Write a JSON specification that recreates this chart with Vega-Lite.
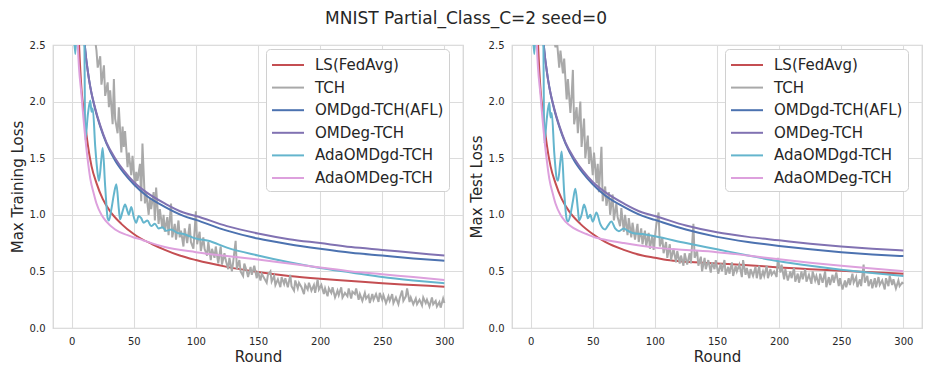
{
"$schema": "https://vega.github.io/schema/vega-lite/v6.json",
"background": "white",
"padding": {"left": 9, "top": 10, "right": 6, "bottom": 4},
"title": {"text": "MNIST Partial_Class_C=2 seed=0", "fontSize": 17, "font": "DejaVu Sans", "fontWeight": "normal", "anchor": "middle", "offset": 11, "color": "#262626"},
"config": {
  "font": "DejaVu Sans",
  "view": {"stroke": "#d4d4d4", "strokeWidth": 1.25},
  "axis": {"grid": true, "gridColor": "#dcdcdc", "gridWidth": 1.1, "domain": false, "ticks": false, "labelFontSize": 10, "labelColor": "#262626", "labelPadding": 8, "titleFontSize": 15, "titleFontWeight": "normal", "titleColor": "#262626", "labelFont": "DejaVu Sans", "titleFont": "DejaVu Sans"},
  "legend": {"orient": "none", "legendX": 213, "legendY": 4, "fillColor": "white", "strokeColor": "#d0d0d0", "cornerRadius": 4, "padding": 5, "labelFontSize": 15, "labelFont": "DejaVu Sans", "labelColor": "#262626", "symbolType": "M-1.6,0H1.6", "symbolSize": 400, "symbolStrokeWidth": 2, "symbolOffset": 6, "rowPadding": 3.6, "labelOffset": 16},
  "concat": {"spacing": 4}
},
"resolve": {"scale": {"color": "independent"}, "legend": {"color": "independent"}},
"datasets": {
"train": [
{"s":"LS(FedAvg)","r":2,"v":4.5},{"s":"LS(FedAvg)","r":4,"v":3.1},{"s":"LS(FedAvg)","r":6,"v":2.5},{"s":"LS(FedAvg)","r":8,"v":2.1},{"s":"LS(FedAvg)","r":10,"v":1.9},{"s":"LS(FedAvg)","r":13,"v":1.62},{"s":"LS(FedAvg)","r":16,"v":1.43},{"s":"LS(FedAvg)","r":20,"v":1.28},{"s":"LS(FedAvg)","r":25,"v":1.14},{"s":"LS(FedAvg)","r":31,"v":1.03},{"s":"LS(FedAvg)","r":40,"v":0.92},{"s":"LS(FedAvg)","r":50,"v":0.83},{"s":"LS(FedAvg)","r":55,"v":0.795},{"s":"LS(FedAvg)","r":65,"v":0.74},{"s":"LS(FedAvg)","r":75,"v":0.69},{"s":"LS(FedAvg)","r":87,"v":0.64},{"s":"LS(FedAvg)","r":100,"v":0.6},{"s":"LS(FedAvg)","r":125,"v":0.54},{"s":"LS(FedAvg)","r":150,"v":0.495},{"s":"LS(FedAvg)","r":175,"v":0.46},{"s":"LS(FedAvg)","r":200,"v":0.435},{"s":"LS(FedAvg)","r":225,"v":0.415},{"s":"LS(FedAvg)","r":250,"v":0.395},{"s":"LS(FedAvg)","r":275,"v":0.38},{"s":"LS(FedAvg)","r":300,"v":0.365},
{"s":"TCH","r":2,"v":4.2},{"s":"TCH","r":6,"v":3.5},{"s":"TCH","r":10,"v":3.1},{"s":"TCH","r":14,"v":2.85},{"s":"TCH","r":16,"v":2.7},{"s":"TCH","r":18,"v":2.62},{"s":"TCH","r":20,"v":2.45},{"s":"TCH","r":21,"v":2.3},{"s":"TCH","r":23,"v":2.4},{"s":"TCH","r":24,"v":2.15},{"s":"TCH","r":26,"v":2.32},{"s":"TCH","r":27,"v":2.05},{"s":"TCH","r":29,"v":2.17},{"s":"TCH","r":30,"v":1.95},{"s":"TCH","r":31,"v":2.1},{"s":"TCH","r":33,"v":1.8},{"s":"TCH","r":34,"v":2.2},{"s":"TCH","r":35,"v":1.85},{"s":"TCH","r":37,"v":1.72},{"s":"TCH","r":38,"v":1.95},{"s":"TCH","r":40,"v":1.55},{"s":"TCH","r":41,"v":1.78},{"s":"TCH","r":42,"v":1.6},{"s":"TCH","r":43,"v":1.74},{"s":"TCH","r":45,"v":1.42},{"s":"TCH","r":46,"v":1.55},{"s":"TCH","r":48,"v":1.35},{"s":"TCH","r":49,"v":1.52},{"s":"TCH","r":51,"v":1.25},{"s":"TCH","r":52,"v":1.38},{"s":"TCH","r":53,"v":1.3},{"s":"TCH","r":55,"v":1.45},{"s":"TCH","r":56,"v":1.12},{"s":"TCH","r":57,"v":1.63},{"s":"TCH","r":59,"v":1.1},{"s":"TCH","r":60,"v":1.2},{"s":"TCH","r":62,"v":1.0},{"s":"TCH","r":63,"v":1.15},{"s":"TCH","r":64,"v":1.05},{"s":"TCH","r":66,"v":1.2},{"s":"TCH","r":67,"v":0.95},{"s":"TCH","r":68,"v":1.24},{"s":"TCH","r":70,"v":0.92},{"s":"TCH","r":71,"v":1.05},{"s":"TCH","r":73,"v":0.88},{"s":"TCH","r":74,"v":1.0},{"s":"TCH","r":75,"v":0.85},{"s":"TCH","r":77,"v":0.98},{"s":"TCH","r":78,"v":0.82},{"s":"TCH","r":80,"v":1.1},{"s":"TCH","r":81,"v":0.8},{"s":"TCH","r":83,"v":0.92},{"s":"TCH","r":84,"v":0.78},{"s":"TCH","r":86,"v":0.95},{"s":"TCH","r":87,"v":0.8},{"s":"TCH","r":88,"v":0.86},{"s":"TCH","r":90,"v":0.72},{"s":"TCH","r":91,"v":0.88},{"s":"TCH","r":93,"v":0.75},{"s":"TCH","r":95,"v":0.92},{"s":"TCH","r":96,"v":0.76},{"s":"TCH","r":98,"v":0.7},{"s":"TCH","r":100,"v":1.03},{"s":"TCH","r":101,"v":0.74},{"s":"TCH","r":103,"v":0.85},{"s":"TCH","r":104,"v":0.68},{"s":"TCH","r":106,"v":0.8},{"s":"TCH","r":107,"v":0.7},{"s":"TCH","r":109,"v":0.64},{"s":"TCH","r":110,"v":0.76},{"s":"TCH","r":112,"v":0.6},{"s":"TCH","r":113,"v":0.7},{"s":"TCH","r":115,"v":0.62},{"s":"TCH","r":116,"v":0.72},{"s":"TCH","r":118,"v":0.57},{"s":"TCH","r":120,"v":0.72},{"s":"TCH","r":121,"v":0.56},{"s":"TCH","r":123,"v":0.66},{"s":"TCH","r":124,"v":0.6},{"s":"TCH","r":126,"v":0.52},{"s":"TCH","r":127,"v":0.62},{"s":"TCH","r":129,"v":0.5},{"s":"TCH","r":130,"v":0.58},{"s":"TCH","r":132,"v":0.77},{"s":"TCH","r":133,"v":0.52},{"s":"TCH","r":135,"v":0.6},{"s":"TCH","r":136,"v":0.5},{"s":"TCH","r":138,"v":0.46},{"s":"TCH","r":139,"v":0.57},{"s":"TCH","r":141,"v":0.5},{"s":"TCH","r":142,"v":0.45},{"s":"TCH","r":144,"v":0.54},{"s":"TCH","r":145,"v":0.47},{"s":"TCH","r":147,"v":0.55},{"s":"TCH","r":149,"v":0.44},{"s":"TCH","r":150,"v":0.5},{"s":"TCH","r":152,"v":0.42},{"s":"TCH","r":153,"v":0.48},{"s":"TCH","r":155,"v":0.44},{"s":"TCH","r":157,"v":0.4},{"s":"TCH","r":158,"v":0.47},{"s":"TCH","r":160,"v":0.5},{"s":"TCH","r":161,"v":0.41},{"s":"TCH","r":163,"v":0.46},{"s":"TCH","r":164,"v":0.38},{"s":"TCH","r":166,"v":0.43},{"s":"TCH","r":168,"v":0.36},{"s":"TCH","r":169,"v":0.45},{"s":"TCH","r":171,"v":0.39},{"s":"TCH","r":172,"v":0.44},{"s":"TCH","r":174,"v":0.36},{"s":"TCH","r":176,"v":0.47},{"s":"TCH","r":177,"v":0.37},{"s":"TCH","r":179,"v":0.33},{"s":"TCH","r":180,"v":0.42},{"s":"TCH","r":182,"v":0.35},{"s":"TCH","r":183,"v":0.4},{"s":"TCH","r":185,"v":0.36},{"s":"TCH","r":187,"v":0.3},{"s":"TCH","r":188,"v":0.38},{"s":"TCH","r":190,"v":0.34},{"s":"TCH","r":191,"v":0.4},{"s":"TCH","r":193,"v":0.33},{"s":"TCH","r":195,"v":0.38},{"s":"TCH","r":196,"v":0.31},{"s":"TCH","r":198,"v":0.43},{"s":"TCH","r":199,"v":0.34},{"s":"TCH","r":201,"v":0.38},{"s":"TCH","r":203,"v":0.3},{"s":"TCH","r":204,"v":0.35},{"s":"TCH","r":206,"v":0.28},{"s":"TCH","r":207,"v":0.35},{"s":"TCH","r":209,"v":0.31},{"s":"TCH","r":210,"v":0.36},{"s":"TCH","r":212,"v":0.27},{"s":"TCH","r":214,"v":0.33},{"s":"TCH","r":215,"v":0.29},{"s":"TCH","r":217,"v":0.36},{"s":"TCH","r":218,"v":0.27},{"s":"TCH","r":220,"v":0.31},{"s":"TCH","r":222,"v":0.28},{"s":"TCH","r":223,"v":0.35},{"s":"TCH","r":225,"v":0.26},{"s":"TCH","r":226,"v":0.32},{"s":"TCH","r":228,"v":0.3},{"s":"TCH","r":229,"v":0.35},{"s":"TCH","r":231,"v":0.25},{"s":"TCH","r":232,"v":0.3},{"s":"TCH","r":234,"v":0.24},{"s":"TCH","r":236,"v":0.31},{"s":"TCH","r":237,"v":0.26},{"s":"TCH","r":239,"v":0.29},{"s":"TCH","r":240,"v":0.22},{"s":"TCH","r":242,"v":0.3},{"s":"TCH","r":243,"v":0.25},{"s":"TCH","r":245,"v":0.3},{"s":"TCH","r":247,"v":0.23},{"s":"TCH","r":248,"v":0.31},{"s":"TCH","r":250,"v":0.25},{"s":"TCH","r":251,"v":0.29},{"s":"TCH","r":253,"v":0.22},{"s":"TCH","r":255,"v":0.28},{"s":"TCH","r":256,"v":0.24},{"s":"TCH","r":258,"v":0.3},{"s":"TCH","r":259,"v":0.22},{"s":"TCH","r":261,"v":0.27},{"s":"TCH","r":263,"v":0.21},{"s":"TCH","r":264,"v":0.26},{"s":"TCH","r":266,"v":0.33},{"s":"TCH","r":267,"v":0.24},{"s":"TCH","r":269,"v":0.28},{"s":"TCH","r":270,"v":0.35},{"s":"TCH","r":272,"v":0.23},{"s":"TCH","r":273,"v":0.27},{"s":"TCH","r":275,"v":0.21},{"s":"TCH","r":277,"v":0.26},{"s":"TCH","r":278,"v":0.21},{"s":"TCH","r":280,"v":0.25},{"s":"TCH","r":282,"v":0.2},{"s":"TCH","r":283,"v":0.27},{"s":"TCH","r":285,"v":0.22},{"s":"TCH","r":286,"v":0.25},{"s":"TCH","r":288,"v":0.19},{"s":"TCH","r":290,"v":0.27},{"s":"TCH","r":291,"v":0.21},{"s":"TCH","r":293,"v":0.24},{"s":"TCH","r":294,"v":0.19},{"s":"TCH","r":296,"v":0.23},{"s":"TCH","r":297,"v":0.18},{"s":"TCH","r":299,"v":0.26},{"s":"TCH","r":300,"v":0.22},
{"s":"OMDgd-TCH(AFL)","r":5,"v":4.0},{"s":"OMDgd-TCH(AFL)","r":8,"v":2.95},{"s":"OMDgd-TCH(AFL)","r":11,"v":2.45},{"s":"OMDgd-TCH(AFL)","r":13,"v":2.27},{"s":"OMDgd-TCH(AFL)","r":15,"v":2.13},{"s":"OMDgd-TCH(AFL)","r":19,"v":1.93},{"s":"OMDgd-TCH(AFL)","r":23,"v":1.78},{"s":"OMDgd-TCH(AFL)","r":28,"v":1.63},{"s":"OMDgd-TCH(AFL)","r":35,"v":1.48},{"s":"OMDgd-TCH(AFL)","r":42,"v":1.37},{"s":"OMDgd-TCH(AFL)","r":50,"v":1.27},{"s":"OMDgd-TCH(AFL)","r":60,"v":1.17},{"s":"OMDgd-TCH(AFL)","r":75,"v":1.07},{"s":"OMDgd-TCH(AFL)","r":90,"v":0.99},{"s":"OMDgd-TCH(AFL)","r":100,"v":0.955},{"s":"OMDgd-TCH(AFL)","r":125,"v":0.86},{"s":"OMDgd-TCH(AFL)","r":150,"v":0.79},{"s":"OMDgd-TCH(AFL)","r":175,"v":0.74},{"s":"OMDgd-TCH(AFL)","r":200,"v":0.7},{"s":"OMDgd-TCH(AFL)","r":225,"v":0.665},{"s":"OMDgd-TCH(AFL)","r":250,"v":0.64},{"s":"OMDgd-TCH(AFL)","r":275,"v":0.615},{"s":"OMDgd-TCH(AFL)","r":300,"v":0.595},
{"s":"OMDeg-TCH","r":5,"v":4.0},{"s":"OMDeg-TCH","r":8,"v":2.95},{"s":"OMDeg-TCH","r":11,"v":2.45},{"s":"OMDeg-TCH","r":13,"v":2.27},{"s":"OMDeg-TCH","r":15,"v":2.13},{"s":"OMDeg-TCH","r":19,"v":1.94},{"s":"OMDeg-TCH","r":23,"v":1.79},{"s":"OMDeg-TCH","r":28,"v":1.64},{"s":"OMDeg-TCH","r":35,"v":1.5},{"s":"OMDeg-TCH","r":42,"v":1.39},{"s":"OMDeg-TCH","r":50,"v":1.29},{"s":"OMDeg-TCH","r":60,"v":1.2},{"s":"OMDeg-TCH","r":75,"v":1.1},{"s":"OMDeg-TCH","r":90,"v":1.02},{"s":"OMDeg-TCH","r":100,"v":0.99},{"s":"OMDeg-TCH","r":125,"v":0.9},{"s":"OMDeg-TCH","r":150,"v":0.835},{"s":"OMDeg-TCH","r":175,"v":0.785},{"s":"OMDeg-TCH","r":200,"v":0.75},{"s":"OMDeg-TCH","r":225,"v":0.715},{"s":"OMDeg-TCH","r":250,"v":0.69},{"s":"OMDeg-TCH","r":275,"v":0.665},{"s":"OMDeg-TCH","r":300,"v":0.64},
{"s":"AdaOMDgd-TCH","r":1,"v":2.9},{"s":"AdaOMDgd-TCH","r":3,"v":2.42},{"s":"AdaOMDgd-TCH","r":5,"v":2.9},{"s":"AdaOMDgd-TCH","r":8,"v":3.0},{"s":"AdaOMDgd-TCH","r":10,"v":2.8},{"s":"AdaOMDgd-TCH","r":11,"v":1.66},{"s":"AdaOMDgd-TCH","r":13,"v":1.88},{"s":"AdaOMDgd-TCH","r":15,"v":2.01},{"s":"AdaOMDgd-TCH","r":16,"v":1.91},{"s":"AdaOMDgd-TCH","r":17,"v":1.94},{"s":"AdaOMDgd-TCH","r":19,"v":1.6},{"s":"AdaOMDgd-TCH","r":21,"v":1.36},{"s":"AdaOMDgd-TCH","r":22,"v":1.3},{"s":"AdaOMDgd-TCH","r":24,"v":1.5},{"s":"AdaOMDgd-TCH","r":25,"v":1.59},{"s":"AdaOMDgd-TCH","r":27,"v":1.25},{"s":"AdaOMDgd-TCH","r":29,"v":0.97},{"s":"AdaOMDgd-TCH","r":30,"v":0.95},{"s":"AdaOMDgd-TCH","r":32,"v":1.05},{"s":"AdaOMDgd-TCH","r":34,"v":1.18},{"s":"AdaOMDgd-TCH","r":36,"v":1.27},{"s":"AdaOMDgd-TCH","r":38,"v":1.05},{"s":"AdaOMDgd-TCH","r":39,"v":0.96},{"s":"AdaOMDgd-TCH","r":41,"v":1.03},{"s":"AdaOMDgd-TCH","r":43,"v":1.09},{"s":"AdaOMDgd-TCH","r":45,"v":1.03},{"s":"AdaOMDgd-TCH","r":46,"v":1.0},{"s":"AdaOMDgd-TCH","r":48,"v":1.07},{"s":"AdaOMDgd-TCH","r":50,"v":0.98},{"s":"AdaOMDgd-TCH","r":52,"v":0.93},{"s":"AdaOMDgd-TCH","r":54,"v":0.99},{"s":"AdaOMDgd-TCH","r":56,"v":0.97},{"s":"AdaOMDgd-TCH","r":58,"v":0.93},{"s":"AdaOMDgd-TCH","r":61,"v":0.95},{"s":"AdaOMDgd-TCH","r":64,"v":0.9},{"s":"AdaOMDgd-TCH","r":67,"v":0.92},{"s":"AdaOMDgd-TCH","r":70,"v":0.88},{"s":"AdaOMDgd-TCH","r":73,"v":0.89},{"s":"AdaOMDgd-TCH","r":76,"v":0.86},{"s":"AdaOMDgd-TCH","r":80,"v":0.87},{"s":"AdaOMDgd-TCH","r":85,"v":0.84},{"s":"AdaOMDgd-TCH","r":90,"v":0.83},{"s":"AdaOMDgd-TCH","r":95,"v":0.81},{"s":"AdaOMDgd-TCH","r":100,"v":0.79},{"s":"AdaOMDgd-TCH","r":110,"v":0.77},{"s":"AdaOMDgd-TCH","r":125,"v":0.71},{"s":"AdaOMDgd-TCH","r":150,"v":0.64},{"s":"AdaOMDgd-TCH","r":175,"v":0.58},{"s":"AdaOMDgd-TCH","r":200,"v":0.53},{"s":"AdaOMDgd-TCH","r":225,"v":0.49},{"s":"AdaOMDgd-TCH","r":250,"v":0.45},{"s":"AdaOMDgd-TCH","r":275,"v":0.42},{"s":"AdaOMDgd-TCH","r":300,"v":0.395},
{"s":"AdaOMDeg-TCH","r":2,"v":4.3},{"s":"AdaOMDeg-TCH","r":4,"v":2.95},{"s":"AdaOMDeg-TCH","r":5,"v":2.5},{"s":"AdaOMDeg-TCH","r":8,"v":2.05},{"s":"AdaOMDeg-TCH","r":11,"v":1.68},{"s":"AdaOMDeg-TCH","r":13,"v":1.48},{"s":"AdaOMDeg-TCH","r":15,"v":1.32},{"s":"AdaOMDeg-TCH","r":18,"v":1.18},{"s":"AdaOMDeg-TCH","r":20,"v":1.1},{"s":"AdaOMDeg-TCH","r":24,"v":1.0},{"s":"AdaOMDeg-TCH","r":28,"v":0.94},{"s":"AdaOMDeg-TCH","r":35,"v":0.87},{"s":"AdaOMDeg-TCH","r":45,"v":0.82},{"s":"AdaOMDeg-TCH","r":50,"v":0.8},{"s":"AdaOMDeg-TCH","r":55,"v":0.785},{"s":"AdaOMDeg-TCH","r":60,"v":0.765},{"s":"AdaOMDeg-TCH","r":75,"v":0.715},{"s":"AdaOMDeg-TCH","r":100,"v":0.67},{"s":"AdaOMDeg-TCH","r":125,"v":0.635},{"s":"AdaOMDeg-TCH","r":150,"v":0.605},{"s":"AdaOMDeg-TCH","r":175,"v":0.57},{"s":"AdaOMDeg-TCH","r":200,"v":0.535},{"s":"AdaOMDeg-TCH","r":225,"v":0.5},{"s":"AdaOMDeg-TCH","r":250,"v":0.475},{"s":"AdaOMDeg-TCH","r":275,"v":0.45},{"s":"AdaOMDeg-TCH","r":300,"v":0.425}
],
"test": [
{"s":"LS(FedAvg)","r":2,"v":4.5},{"s":"LS(FedAvg)","r":4,"v":3.1},{"s":"LS(FedAvg)","r":6,"v":2.5},{"s":"LS(FedAvg)","r":8,"v":2.1},{"s":"LS(FedAvg)","r":10,"v":1.9},{"s":"LS(FedAvg)","r":13,"v":1.62},{"s":"LS(FedAvg)","r":16,"v":1.43},{"s":"LS(FedAvg)","r":20,"v":1.28},{"s":"LS(FedAvg)","r":25,"v":1.14},{"s":"LS(FedAvg)","r":31,"v":1.03},{"s":"LS(FedAvg)","r":40,"v":0.92},{"s":"LS(FedAvg)","r":50,"v":0.83},{"s":"LS(FedAvg)","r":60,"v":0.76},{"s":"LS(FedAvg)","r":75,"v":0.69},{"s":"LS(FedAvg)","r":90,"v":0.64},{"s":"LS(FedAvg)","r":100,"v":0.62},{"s":"LS(FedAvg)","r":110,"v":0.6},{"s":"LS(FedAvg)","r":125,"v":0.585},{"s":"LS(FedAvg)","r":150,"v":0.57},{"s":"LS(FedAvg)","r":175,"v":0.555},{"s":"LS(FedAvg)","r":200,"v":0.535},{"s":"LS(FedAvg)","r":225,"v":0.52},{"s":"LS(FedAvg)","r":250,"v":0.505},{"s":"LS(FedAvg)","r":275,"v":0.492},{"s":"LS(FedAvg)","r":300,"v":0.48},
{"s":"TCH","r":2,"v":4.2},{"s":"TCH","r":6,"v":3.5},{"s":"TCH","r":10,"v":3.1},{"s":"TCH","r":14,"v":2.9},{"s":"TCH","r":16,"v":2.75},{"s":"TCH","r":18,"v":2.6},{"s":"TCH","r":20,"v":2.48},{"s":"TCH","r":21,"v":2.56},{"s":"TCH","r":23,"v":2.3},{"s":"TCH","r":24,"v":2.45},{"s":"TCH","r":26,"v":2.25},{"s":"TCH","r":27,"v":2.38},{"s":"TCH","r":29,"v":2.02},{"s":"TCH","r":30,"v":2.2},{"s":"TCH","r":32,"v":1.9},{"s":"TCH","r":33,"v":2.05},{"s":"TCH","r":34,"v":2.28},{"s":"TCH","r":35,"v":1.8},{"s":"TCH","r":37,"v":1.95},{"s":"TCH","r":38,"v":1.72},{"s":"TCH","r":40,"v":2.0},{"s":"TCH","r":41,"v":1.6},{"s":"TCH","r":43,"v":1.85},{"s":"TCH","r":44,"v":1.5},{"s":"TCH","r":46,"v":1.7},{"s":"TCH","r":47,"v":1.45},{"s":"TCH","r":48,"v":1.6},{"s":"TCH","r":50,"v":1.35},{"s":"TCH","r":51,"v":1.55},{"s":"TCH","r":53,"v":1.28},{"s":"TCH","r":54,"v":1.45},{"s":"TCH","r":55,"v":1.2},{"s":"TCH","r":57,"v":1.6},{"s":"TCH","r":58,"v":1.12},{"s":"TCH","r":60,"v":1.25},{"s":"TCH","r":61,"v":1.08},{"s":"TCH","r":63,"v":1.2},{"s":"TCH","r":64,"v":1.0},{"s":"TCH","r":66,"v":1.18},{"s":"TCH","r":67,"v":0.95},{"s":"TCH","r":69,"v":1.1},{"s":"TCH","r":70,"v":0.98},{"s":"TCH","r":72,"v":0.9},{"s":"TCH","r":73,"v":1.06},{"s":"TCH","r":75,"v":0.85},{"s":"TCH","r":76,"v":1.0},{"s":"TCH","r":78,"v":0.82},{"s":"TCH","r":79,"v":0.97},{"s":"TCH","r":81,"v":0.8},{"s":"TCH","r":82,"v":0.93},{"s":"TCH","r":84,"v":0.78},{"s":"TCH","r":86,"v":0.92},{"s":"TCH","r":87,"v":0.76},{"s":"TCH","r":89,"v":0.88},{"s":"TCH","r":90,"v":0.74},{"s":"TCH","r":92,"v":0.86},{"s":"TCH","r":93,"v":0.72},{"s":"TCH","r":95,"v":0.84},{"s":"TCH","r":96,"v":0.7},{"s":"TCH","r":98,"v":0.82},{"s":"TCH","r":99,"v":0.69},{"s":"TCH","r":101,"v":0.9},{"s":"TCH","r":103,"v":1.02},{"s":"TCH","r":104,"v":0.72},{"s":"TCH","r":106,"v":0.8},{"s":"TCH","r":107,"v":0.66},{"s":"TCH","r":109,"v":0.76},{"s":"TCH","r":110,"v":0.62},{"s":"TCH","r":112,"v":0.74},{"s":"TCH","r":113,"v":0.6},{"s":"TCH","r":115,"v":0.7},{"s":"TCH","r":117,"v":0.58},{"s":"TCH","r":118,"v":0.68},{"s":"TCH","r":120,"v":0.57},{"s":"TCH","r":121,"v":0.64},{"s":"TCH","r":123,"v":0.55},{"s":"TCH","r":124,"v":0.66},{"s":"TCH","r":126,"v":0.56},{"s":"TCH","r":128,"v":0.66},{"s":"TCH","r":129,"v":0.57},{"s":"TCH","r":131,"v":0.92},{"s":"TCH","r":132,"v":0.62},{"s":"TCH","r":134,"v":0.68},{"s":"TCH","r":135,"v":0.55},{"s":"TCH","r":137,"v":0.63},{"s":"TCH","r":138,"v":0.5},{"s":"TCH","r":140,"v":0.62},{"s":"TCH","r":141,"v":0.52},{"s":"TCH","r":143,"v":0.6},{"s":"TCH","r":145,"v":0.49},{"s":"TCH","r":146,"v":0.58},{"s":"TCH","r":148,"v":0.52},{"s":"TCH","r":149,"v":0.6},{"s":"TCH","r":151,"v":0.48},{"s":"TCH","r":153,"v":0.57},{"s":"TCH","r":154,"v":0.5},{"s":"TCH","r":156,"v":0.6},{"s":"TCH","r":157,"v":0.47},{"s":"TCH","r":159,"v":0.54},{"s":"TCH","r":160,"v":0.48},{"s":"TCH","r":162,"v":0.58},{"s":"TCH","r":163,"v":0.46},{"s":"TCH","r":165,"v":0.55},{"s":"TCH","r":166,"v":0.5},{"s":"TCH","r":168,"v":0.56},{"s":"TCH","r":170,"v":0.45},{"s":"TCH","r":171,"v":0.6},{"s":"TCH","r":173,"v":0.47},{"s":"TCH","r":174,"v":0.53},{"s":"TCH","r":176,"v":0.44},{"s":"TCH","r":177,"v":0.52},{"s":"TCH","r":179,"v":0.46},{"s":"TCH","r":181,"v":0.54},{"s":"TCH","r":182,"v":0.44},{"s":"TCH","r":184,"v":0.55},{"s":"TCH","r":185,"v":0.43},{"s":"TCH","r":187,"v":0.5},{"s":"TCH","r":188,"v":0.46},{"s":"TCH","r":190,"v":0.55},{"s":"TCH","r":191,"v":0.44},{"s":"TCH","r":193,"v":0.52},{"s":"TCH","r":194,"v":0.47},{"s":"TCH","r":196,"v":0.5},{"s":"TCH","r":198,"v":0.45},{"s":"TCH","r":199,"v":0.62},{"s":"TCH","r":201,"v":0.49},{"s":"TCH","r":202,"v":0.56},{"s":"TCH","r":204,"v":0.43},{"s":"TCH","r":205,"v":0.52},{"s":"TCH","r":207,"v":0.42},{"s":"TCH","r":209,"v":0.5},{"s":"TCH","r":210,"v":0.44},{"s":"TCH","r":212,"v":0.53},{"s":"TCH","r":213,"v":0.41},{"s":"TCH","r":215,"v":0.48},{"s":"TCH","r":216,"v":0.4},{"s":"TCH","r":218,"v":0.5},{"s":"TCH","r":219,"v":0.43},{"s":"TCH","r":221,"v":0.52},{"s":"TCH","r":222,"v":0.41},{"s":"TCH","r":224,"v":0.47},{"s":"TCH","r":226,"v":0.39},{"s":"TCH","r":227,"v":0.5},{"s":"TCH","r":229,"v":0.42},{"s":"TCH","r":230,"v":0.46},{"s":"TCH","r":232,"v":0.38},{"s":"TCH","r":233,"v":0.48},{"s":"TCH","r":235,"v":0.4},{"s":"TCH","r":237,"v":0.5},{"s":"TCH","r":238,"v":0.36},{"s":"TCH","r":240,"v":0.45},{"s":"TCH","r":241,"v":0.38},{"s":"TCH","r":243,"v":0.47},{"s":"TCH","r":244,"v":0.4},{"s":"TCH","r":246,"v":0.49},{"s":"TCH","r":248,"v":0.37},{"s":"TCH","r":249,"v":0.44},{"s":"TCH","r":251,"v":0.34},{"s":"TCH","r":253,"v":0.42},{"s":"TCH","r":254,"v":0.36},{"s":"TCH","r":256,"v":0.44},{"s":"TCH","r":257,"v":0.38},{"s":"TCH","r":259,"v":0.48},{"s":"TCH","r":260,"v":0.4},{"s":"TCH","r":262,"v":0.45},{"s":"TCH","r":263,"v":0.36},{"s":"TCH","r":265,"v":0.43},{"s":"TCH","r":266,"v":0.37},{"s":"TCH","r":268,"v":0.56},{"s":"TCH","r":269,"v":0.4},{"s":"TCH","r":271,"v":0.46},{"s":"TCH","r":272,"v":0.37},{"s":"TCH","r":274,"v":0.43},{"s":"TCH","r":275,"v":0.35},{"s":"TCH","r":277,"v":0.44},{"s":"TCH","r":278,"v":0.36},{"s":"TCH","r":280,"v":0.45},{"s":"TCH","r":281,"v":0.38},{"s":"TCH","r":283,"v":0.42},{"s":"TCH","r":285,"v":0.34},{"s":"TCH","r":286,"v":0.44},{"s":"TCH","r":288,"v":0.37},{"s":"TCH","r":289,"v":0.46},{"s":"TCH","r":291,"v":0.38},{"s":"TCH","r":292,"v":0.43},{"s":"TCH","r":294,"v":0.35},{"s":"TCH","r":296,"v":0.42},{"s":"TCH","r":297,"v":0.37},{"s":"TCH","r":299,"v":0.4},{"s":"TCH","r":300,"v":0.39},
{"s":"OMDgd-TCH(AFL)","r":5,"v":4.0},{"s":"OMDgd-TCH(AFL)","r":8,"v":2.95},{"s":"OMDgd-TCH(AFL)","r":11,"v":2.45},{"s":"OMDgd-TCH(AFL)","r":13,"v":2.27},{"s":"OMDgd-TCH(AFL)","r":15,"v":2.13},{"s":"OMDgd-TCH(AFL)","r":19,"v":1.93},{"s":"OMDgd-TCH(AFL)","r":23,"v":1.78},{"s":"OMDgd-TCH(AFL)","r":28,"v":1.63},{"s":"OMDgd-TCH(AFL)","r":35,"v":1.48},{"s":"OMDgd-TCH(AFL)","r":42,"v":1.37},{"s":"OMDgd-TCH(AFL)","r":50,"v":1.27},{"s":"OMDgd-TCH(AFL)","r":60,"v":1.17},{"s":"OMDgd-TCH(AFL)","r":75,"v":1.07},{"s":"OMDgd-TCH(AFL)","r":90,"v":0.99},{"s":"OMDgd-TCH(AFL)","r":100,"v":0.955},{"s":"OMDgd-TCH(AFL)","r":125,"v":0.87},{"s":"OMDgd-TCH(AFL)","r":150,"v":0.805},{"s":"OMDgd-TCH(AFL)","r":175,"v":0.76},{"s":"OMDgd-TCH(AFL)","r":200,"v":0.725},{"s":"OMDgd-TCH(AFL)","r":225,"v":0.695},{"s":"OMDgd-TCH(AFL)","r":250,"v":0.67},{"s":"OMDgd-TCH(AFL)","r":275,"v":0.65},{"s":"OMDgd-TCH(AFL)","r":300,"v":0.635},
{"s":"OMDeg-TCH","r":5,"v":4.0},{"s":"OMDeg-TCH","r":8,"v":2.95},{"s":"OMDeg-TCH","r":11,"v":2.45},{"s":"OMDeg-TCH","r":13,"v":2.27},{"s":"OMDeg-TCH","r":15,"v":2.13},{"s":"OMDeg-TCH","r":19,"v":1.94},{"s":"OMDeg-TCH","r":23,"v":1.79},{"s":"OMDeg-TCH","r":28,"v":1.64},{"s":"OMDeg-TCH","r":35,"v":1.5},{"s":"OMDeg-TCH","r":42,"v":1.39},{"s":"OMDeg-TCH","r":50,"v":1.29},{"s":"OMDeg-TCH","r":60,"v":1.2},{"s":"OMDeg-TCH","r":75,"v":1.1},{"s":"OMDeg-TCH","r":90,"v":1.02},{"s":"OMDeg-TCH","r":100,"v":0.99},{"s":"OMDeg-TCH","r":125,"v":0.905},{"s":"OMDeg-TCH","r":150,"v":0.845},{"s":"OMDeg-TCH","r":175,"v":0.805},{"s":"OMDeg-TCH","r":200,"v":0.775},{"s":"OMDeg-TCH","r":225,"v":0.745},{"s":"OMDeg-TCH","r":250,"v":0.72},{"s":"OMDeg-TCH","r":275,"v":0.7},{"s":"OMDeg-TCH","r":300,"v":0.685},
{"s":"AdaOMDgd-TCH","r":1,"v":2.9},{"s":"AdaOMDgd-TCH","r":3,"v":2.42},{"s":"AdaOMDgd-TCH","r":5,"v":2.9},{"s":"AdaOMDgd-TCH","r":8,"v":3.0},{"s":"AdaOMDgd-TCH","r":10,"v":2.8},{"s":"AdaOMDgd-TCH","r":11,"v":1.63},{"s":"AdaOMDgd-TCH","r":13,"v":1.85},{"s":"AdaOMDgd-TCH","r":15,"v":1.99},{"s":"AdaOMDgd-TCH","r":16,"v":1.86},{"s":"AdaOMDgd-TCH","r":17,"v":1.9},{"s":"AdaOMDgd-TCH","r":19,"v":1.55},{"s":"AdaOMDgd-TCH","r":21,"v":1.32},{"s":"AdaOMDgd-TCH","r":22,"v":1.3},{"s":"AdaOMDgd-TCH","r":24,"v":1.48},{"s":"AdaOMDgd-TCH","r":25,"v":1.56},{"s":"AdaOMDgd-TCH","r":27,"v":1.2},{"s":"AdaOMDgd-TCH","r":29,"v":0.96},{"s":"AdaOMDgd-TCH","r":30,"v":0.94},{"s":"AdaOMDgd-TCH","r":32,"v":1.0},{"s":"AdaOMDgd-TCH","r":34,"v":1.12},{"s":"AdaOMDgd-TCH","r":36,"v":1.23},{"s":"AdaOMDgd-TCH","r":38,"v":1.05},{"s":"AdaOMDgd-TCH","r":39,"v":0.95},{"s":"AdaOMDgd-TCH","r":41,"v":1.0},{"s":"AdaOMDgd-TCH","r":43,"v":1.09},{"s":"AdaOMDgd-TCH","r":45,"v":1.02},{"s":"AdaOMDgd-TCH","r":46,"v":0.97},{"s":"AdaOMDgd-TCH","r":48,"v":1.0},{"s":"AdaOMDgd-TCH","r":50,"v":0.94},{"s":"AdaOMDgd-TCH","r":53,"v":1.02},{"s":"AdaOMDgd-TCH","r":56,"v":0.92},{"s":"AdaOMDgd-TCH","r":60,"v":0.87},{"s":"AdaOMDgd-TCH","r":62,"v":0.9},{"s":"AdaOMDgd-TCH","r":65,"v":0.94},{"s":"AdaOMDgd-TCH","r":68,"v":0.88},{"s":"AdaOMDgd-TCH","r":71,"v":0.855},{"s":"AdaOMDgd-TCH","r":75,"v":0.88},{"s":"AdaOMDgd-TCH","r":78,"v":0.86},{"s":"AdaOMDgd-TCH","r":82,"v":0.84},{"s":"AdaOMDgd-TCH","r":90,"v":0.83},{"s":"AdaOMDgd-TCH","r":100,"v":0.81},{"s":"AdaOMDgd-TCH","r":125,"v":0.75},{"s":"AdaOMDgd-TCH","r":150,"v":0.695},{"s":"AdaOMDgd-TCH","r":175,"v":0.64},{"s":"AdaOMDgd-TCH","r":200,"v":0.59},{"s":"AdaOMDgd-TCH","r":225,"v":0.55},{"s":"AdaOMDgd-TCH","r":250,"v":0.515},{"s":"AdaOMDgd-TCH","r":275,"v":0.485},{"s":"AdaOMDgd-TCH","r":300,"v":0.46},
{"s":"AdaOMDeg-TCH","r":2,"v":4.3},{"s":"AdaOMDeg-TCH","r":4,"v":2.95},{"s":"AdaOMDeg-TCH","r":5,"v":2.5},{"s":"AdaOMDeg-TCH","r":8,"v":2.05},{"s":"AdaOMDeg-TCH","r":11,"v":1.68},{"s":"AdaOMDeg-TCH","r":13,"v":1.48},{"s":"AdaOMDeg-TCH","r":15,"v":1.32},{"s":"AdaOMDeg-TCH","r":18,"v":1.18},{"s":"AdaOMDeg-TCH","r":20,"v":1.1},{"s":"AdaOMDeg-TCH","r":24,"v":1.0},{"s":"AdaOMDeg-TCH","r":28,"v":0.94},{"s":"AdaOMDeg-TCH","r":35,"v":0.88},{"s":"AdaOMDeg-TCH","r":45,"v":0.83},{"s":"AdaOMDeg-TCH","r":52,"v":0.8},{"s":"AdaOMDeg-TCH","r":60,"v":0.78},{"s":"AdaOMDeg-TCH","r":75,"v":0.75},{"s":"AdaOMDeg-TCH","r":100,"v":0.71},{"s":"AdaOMDeg-TCH","r":125,"v":0.69},{"s":"AdaOMDeg-TCH","r":150,"v":0.67},{"s":"AdaOMDeg-TCH","r":175,"v":0.64},{"s":"AdaOMDeg-TCH","r":200,"v":0.607},{"s":"AdaOMDeg-TCH","r":225,"v":0.577},{"s":"AdaOMDeg-TCH","r":250,"v":0.55},{"s":"AdaOMDeg-TCH","r":275,"v":0.525},{"s":"AdaOMDeg-TCH","r":300,"v":0.502}
]
},
"hconcat": [
{
 "width": 410, "height": 283,
 "data": {"name": "train"},
 "encoding": {
  "x": {"field": "r", "type": "quantitative", "scale": {"domain": [-15, 315], "nice": false, "zero": false}, "axis": {"values": [0,50,100,150,200,250,300], "title": "Round", "titlePadding": 3, "labelFlush": false}},
  "y": {"field": "v", "type": "quantitative", "scale": {"domain": [0, 2.5], "nice": false}, "axis": {"values": [0,0.5,1,1.5,2,2.5], "format": ".1f", "title": "Max Training Loss", "titlePadding": 4, "labelFlush": false}},
  "color": {"field": "s", "type": "nominal", "sort": null, "scale": {"domain": ["LS(FedAvg)","TCH","OMDgd-TCH(AFL)","OMDeg-TCH","AdaOMDgd-TCH","AdaOMDeg-TCH"], "range": ["#c44e52","#a9a9a9","#4c72b0","#8172b2","#64b5cd","#dda0dd"]}, "legend": {"title": null}}
 },
 "layer": [
  {"transform": [{"filter": "datum.s === 'LS(FedAvg)'"}], "mark": {"type": "line", "strokeWidth": 2, "clip": true, "interpolate": "monotone"}},
  {"transform": [{"filter": "datum.s === 'TCH'"}], "mark": {"type": "line", "strokeWidth": 2, "clip": true, "interpolate": "linear"}},
  {"transform": [{"filter": "datum.s !== 'LS(FedAvg)' && datum.s !== 'TCH'"}], "mark": {"type": "line", "strokeWidth": 2, "clip": true, "interpolate": "monotone"}}
 ]
},
{
 "width": 410, "height": 283,
 "data": {"name": "test"},
 "encoding": {
  "x": {"field": "r", "type": "quantitative", "scale": {"domain": [-15, 315], "nice": false, "zero": false}, "axis": {"values": [0,50,100,150,200,250,300], "title": "Round", "titlePadding": 3, "labelFlush": false}},
  "y": {"field": "v", "type": "quantitative", "scale": {"domain": [0, 2.5], "nice": false}, "axis": {"values": [0,0.5,1,1.5,2,2.5], "format": ".1f", "title": "Max Test Loss", "titlePadding": 4, "labelFlush": false}},
  "color": {"field": "s", "type": "nominal", "sort": null, "scale": {"domain": ["LS(FedAvg)","TCH","OMDgd-TCH(AFL)","OMDeg-TCH","AdaOMDgd-TCH","AdaOMDeg-TCH"], "range": ["#c44e52","#a9a9a9","#4c72b0","#8172b2","#64b5cd","#dda0dd"]}, "legend": {"title": null}}
 },
 "layer": [
  {"transform": [{"filter": "datum.s === 'LS(FedAvg)'"}], "mark": {"type": "line", "strokeWidth": 2, "clip": true, "interpolate": "monotone"}},
  {"transform": [{"filter": "datum.s === 'TCH'"}], "mark": {"type": "line", "strokeWidth": 2, "clip": true, "interpolate": "linear"}},
  {"transform": [{"filter": "datum.s !== 'LS(FedAvg)' && datum.s !== 'TCH'"}], "mark": {"type": "line", "strokeWidth": 2, "clip": true, "interpolate": "monotone"}}
 ]
}
]
}
